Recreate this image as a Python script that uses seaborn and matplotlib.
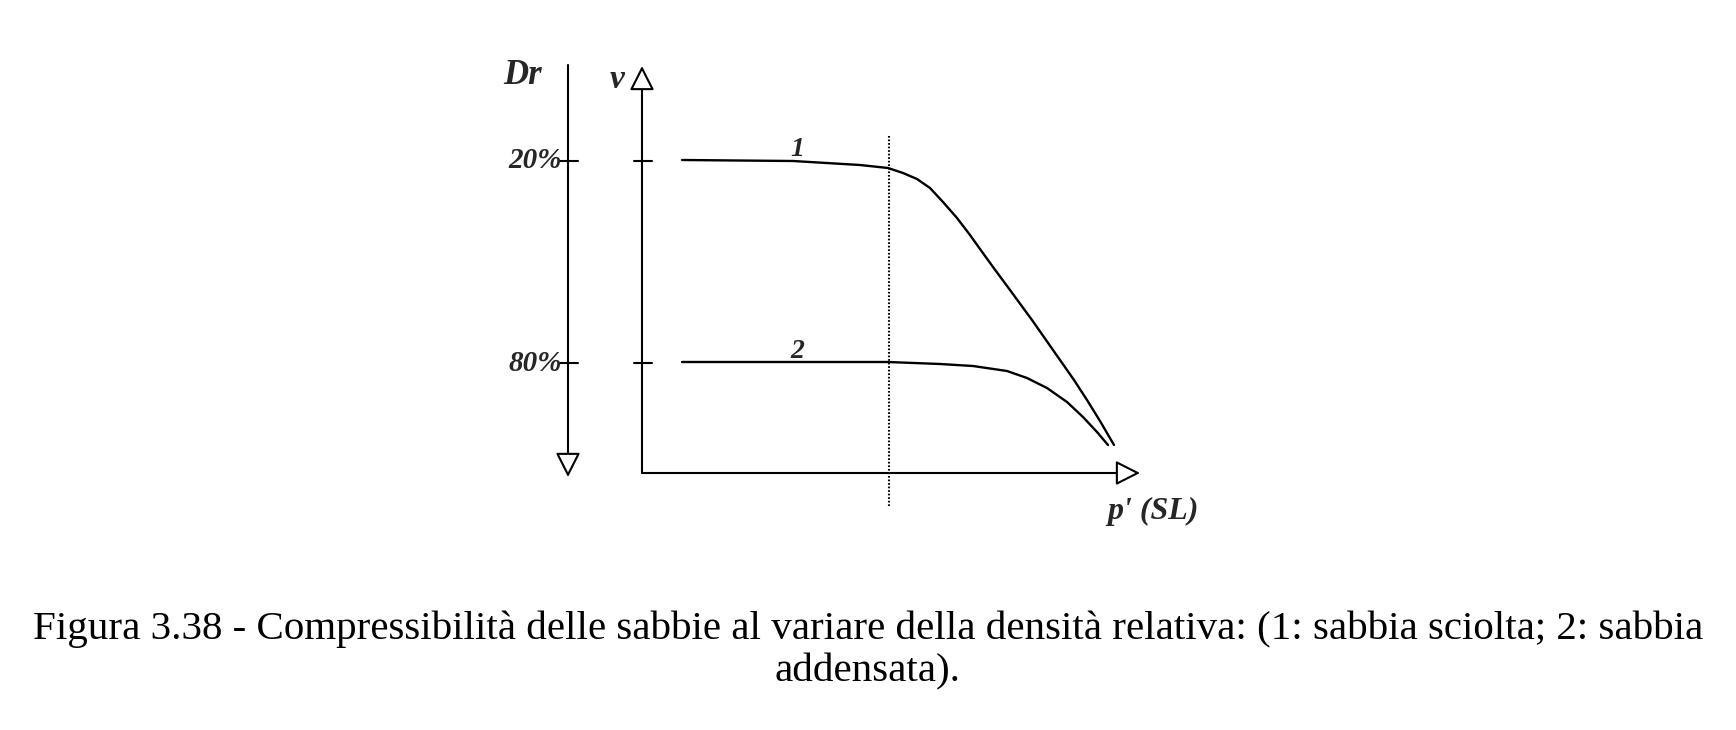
import numpy as np
import pandas as pd
import matplotlib
matplotlib.use("Agg")
import matplotlib.pyplot as plt
import seaborn as sns

# curve 1: loose sand (Dr = 20%), curve 2: dense sand (Dr = 80%)
p_loose = [0.40, 1.51, 2.18, 2.46, 2.61, 2.75, 2.88, 3.01, 3.15, 3.28, 3.38,
           3.51, 3.68, 3.90, 4.04, 4.18, 4.32, 4.45, 4.58, 4.72]
v_loose = [3.13, 3.12, 3.08, 3.05, 3.00, 2.94, 2.85, 2.71, 2.55, 2.38, 2.24,
           2.06, 1.83, 1.53, 1.33, 1.13, 0.93, 0.73, 0.52, 0.28]
p_dense = [0.40, 2.46, 2.98, 3.31, 3.65, 3.85, 4.05, 4.25, 4.41, 4.55, 4.66]
v_dense = [1.11, 1.11, 1.09, 1.07, 1.02, 0.95, 0.85, 0.71, 0.56, 0.41, 0.28]

curve_labels = ["1", "2"]
dr_levels = ["20%", "80%"]
v_levels = [3.125, 1.10]
p_sl = 2.47

caption = ("Figura 3.38 - Compressibilità delle sabbie al variare della densità relativa: "
           "(1: sabbia sciolta; 2: sabbia\naddensata).")

df = pd.concat([
    pd.DataFrame({"p": p_loose, "v": v_loose, "curva": curve_labels[0]}),
    pd.DataFrame({"p": p_dense, "v": v_dense, "curva": curve_labels[1]}),
])

sns.set_theme(style="white")
plt.rcParams["font.family"] = ["Liberation Serif", "DejaVu Serif"]

fig = plt.figure(figsize=(17.36, 7.30), dpi=100)
ax = fig.add_axes([0, 0, 1, 1])
ax.set_xlim(-6.42, 10.94)
ax.set_ylim(-2.57, 4.73)
ax.axis("off")

sns.lineplot(data=df, x="p", y="v", hue="curva", units="curva", estimator=None,
             sort=False, palette=["black", "black"], linewidth=1.7, legend=False, ax=ax)

# dotted line at p'(SL)
ax.plot([p_sl, p_sl], [-0.33, 3.38], color="black", lw=1.5, ls=(0, (0.8, 0.9)))

arrow = dict(arrowstyle="-|>,head_length=0.75,head_width=0.38", fc="white",
             ec="black", lw=1.5, shrinkA=0, shrinkB=0, mutation_scale=20)
# v axis and p' axis
ax.annotate("", xy=(0, 4.07), xytext=(0, 0), arrowprops=arrow)
ax.annotate("", xy=(4.98, 0), xytext=(0, 0), arrowprops=arrow)
# Dr axis (downwards)
ax.annotate("", xy=(-0.74, -0.04), xytext=(-0.74, 4.08), arrowprops=arrow)

for lab, yv in zip(dr_levels, v_levels):
    ax.plot([-0.82, -0.64], [yv, yv], color="black", lw=1.5)
    ax.plot([-0.08, 0.10], [yv, yv], color="black", lw=1.5)
    ax.text(-0.80, yv, lab, ha="right", va="center", fontsize=21,
            style="italic", weight="bold")

for lab, yv in zip(curve_labels, [3.23, 1.22]):
    ax.text(1.55, yv, lab, ha="center", va="center", fontsize=20,
            style="italic", weight="bold")

ax.text(-1.19, 3.98, "Dr", ha="center", va="center", fontsize=25, style="italic", weight="bold")
ax.text(-0.25, 3.93, "v", ha="center", va="center", fontsize=24, style="italic", weight="bold")
ax.text(4.65, -0.38, "p' (SL)", ha="left", va="center", fontsize=23, style="italic", weight="bold")

ax.text(2.26, -1.775, caption, ha="center", va="center", fontsize=29.5,
        linespacing=1.16, color="black")

fig.savefig("out.png", dpi=100)
